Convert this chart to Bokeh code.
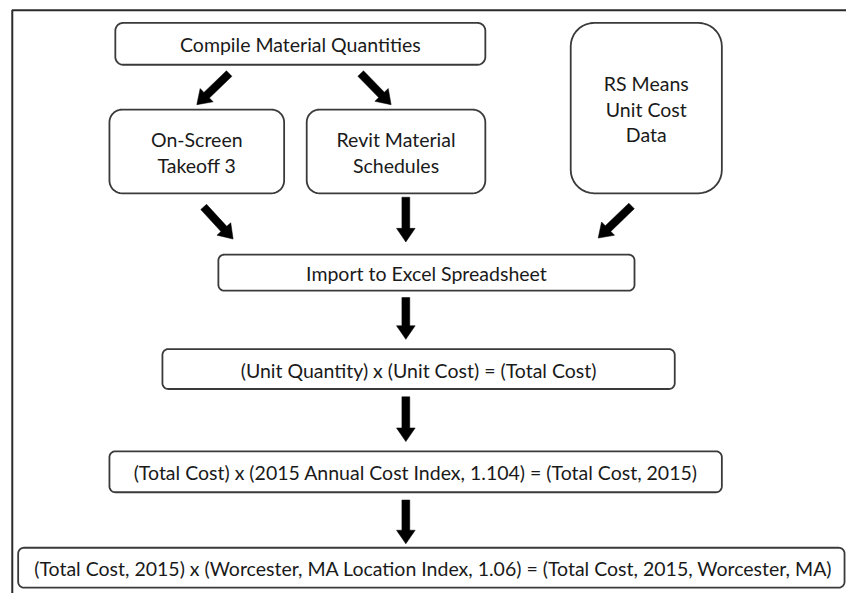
import numpy as np
from bokeh.plotting import figure
from bokeh.models import Range1d, ColumnDataSource
from bokeh.core.properties import value
from bokeh.embed import file_html
from bokeh.resources import INLINE

# ---- flowchart data (reference-pixel coordinates) ----
labels = [
    "Compile Material Quantities",
    "On-Screen\nTakeoff 3",
    "Revit Material\nSchedules",
    "RS Means\nUnit Cost\nData",
    "Import to Excel Spreadsheet",
    "(Unit Quantity) x (Unit Cost) = (Total Cost)",
    "(Total Cost) x (2015 Annual Cost Index, 1.104) = (Total Cost, 2015)",
    "(Total Cost, 2015) x (Worcester, MA Location Index, 1.06) = (Total Cost, 2015, Worcester, MA)",
]
box_x0 = [117, 111, 312, 581, 222, 165, 111, 18]
box_x1 = [494, 289, 494, 735, 646, 687, 735, 860]
box_y0 = [23, 112, 112, 23, 261, 358, 463, 562]
box_y1 = [66, 198, 198, 198, 298, 399, 505, 603]
box_r = [8, 13, 13, 24, 6, 6, 6, 6]
text_x = [305.5, 200, 403, 658, 434, 426, 423, 441]

arrow_x0 = [233, 367, 207, 413, 643, 413, 413, 413]
arrow_y0 = [75, 75, 212, 202, 211, 305, 407, 513]
arrow_x1 = [200, 398, 237, 413, 609, 413, 413, 413]
arrow_y1 = [107, 107, 245, 248, 244, 348, 453, 558]

frame_xs = [[12, 12, 862]]
frame_ys = [[609, 10, 10]]


def rounded_rect(x0, x1, y0, y1, r, n=10):
    xs, ys = [], []
    corners = [
        (x1 - r, y0 + r, -np.pi / 2, 0),
        (x1 - r, y1 - r, 0, np.pi / 2),
        (x0 + r, y1 - r, np.pi / 2, np.pi),
        (x0 + r, y0 + r, np.pi, 1.5 * np.pi),
    ]
    for cx, cy, a0, a1 in corners:
        t = np.linspace(a0, a1, n)
        xs.extend(cx + r * np.cos(t))
        ys.extend(cy + r * np.sin(t))
    return xs, ys


def block_arrow(x0, y0, x1, y1, sw=4.0, hw=9.5, hl=14.0):
    d = np.array([x1 - x0, y1 - y0], dtype=float)
    L = np.hypot(*d)
    u = d / L
    nrm = np.array([-u[1], u[0]])
    tail = np.array([x0, y0], dtype=float)
    tip = np.array([x1, y1], dtype=float)
    base = tip - u * hl
    pts = [
        tail + nrm * sw, base + nrm * sw, base + nrm * hw, tip,
        base - nrm * hw, base - nrm * sw, tail - nrm * sw,
    ]
    return [p[0] for p in pts], [p[1] for p in pts]


p = figure(width=846, height=593, output_backend="svg", toolbar_location=None,
           x_range=Range1d(0, 862), y_range=Range1d(609, 0), min_border=0)
p.axis.visible = False
p.grid.visible = False
p.outline_line_color = None
p.background_fill_color = "white"
p.border_fill_color = "white"

# outer frame
p.multi_line(frame_xs, frame_ys, line_color="#2b2b2b", line_width=2)

bx, by = [], []
for a, b, c, d, r in zip(box_x0, box_x1, box_y0, box_y1, box_r):
    xs, ys = rounded_rect(a, b, c, d, r)
    bx.append(xs)
    by.append(ys)
p.patches(bx, by, fill_color="white", line_color="#3a3a3a", line_width=1.8)

ax, ay = [], []
for a, b, c, d in zip(arrow_x0, arrow_y0, arrow_x1, arrow_y1):
    xs, ys = block_arrow(a, b, c, d)
    ax.append(xs)
    ay.append(ys)
p.patches(ax, ay, fill_color="black", line_color="black", line_width=0.5)

ty = [(c + d) / 2 + 1 for c, d in zip(box_y0, box_y1)]
src = ColumnDataSource(dict(x=text_x, y=ty, t=labels))
p.text(x="x", y="y", text="t", source=src, text_align="center", text_baseline="middle",
       text_font=value("Lato"), text_font_size="19.5px", text_color="#1a1a1a",
       text_line_height=1.12)

open("out.html", "w").write(file_html(p, INLINE))
